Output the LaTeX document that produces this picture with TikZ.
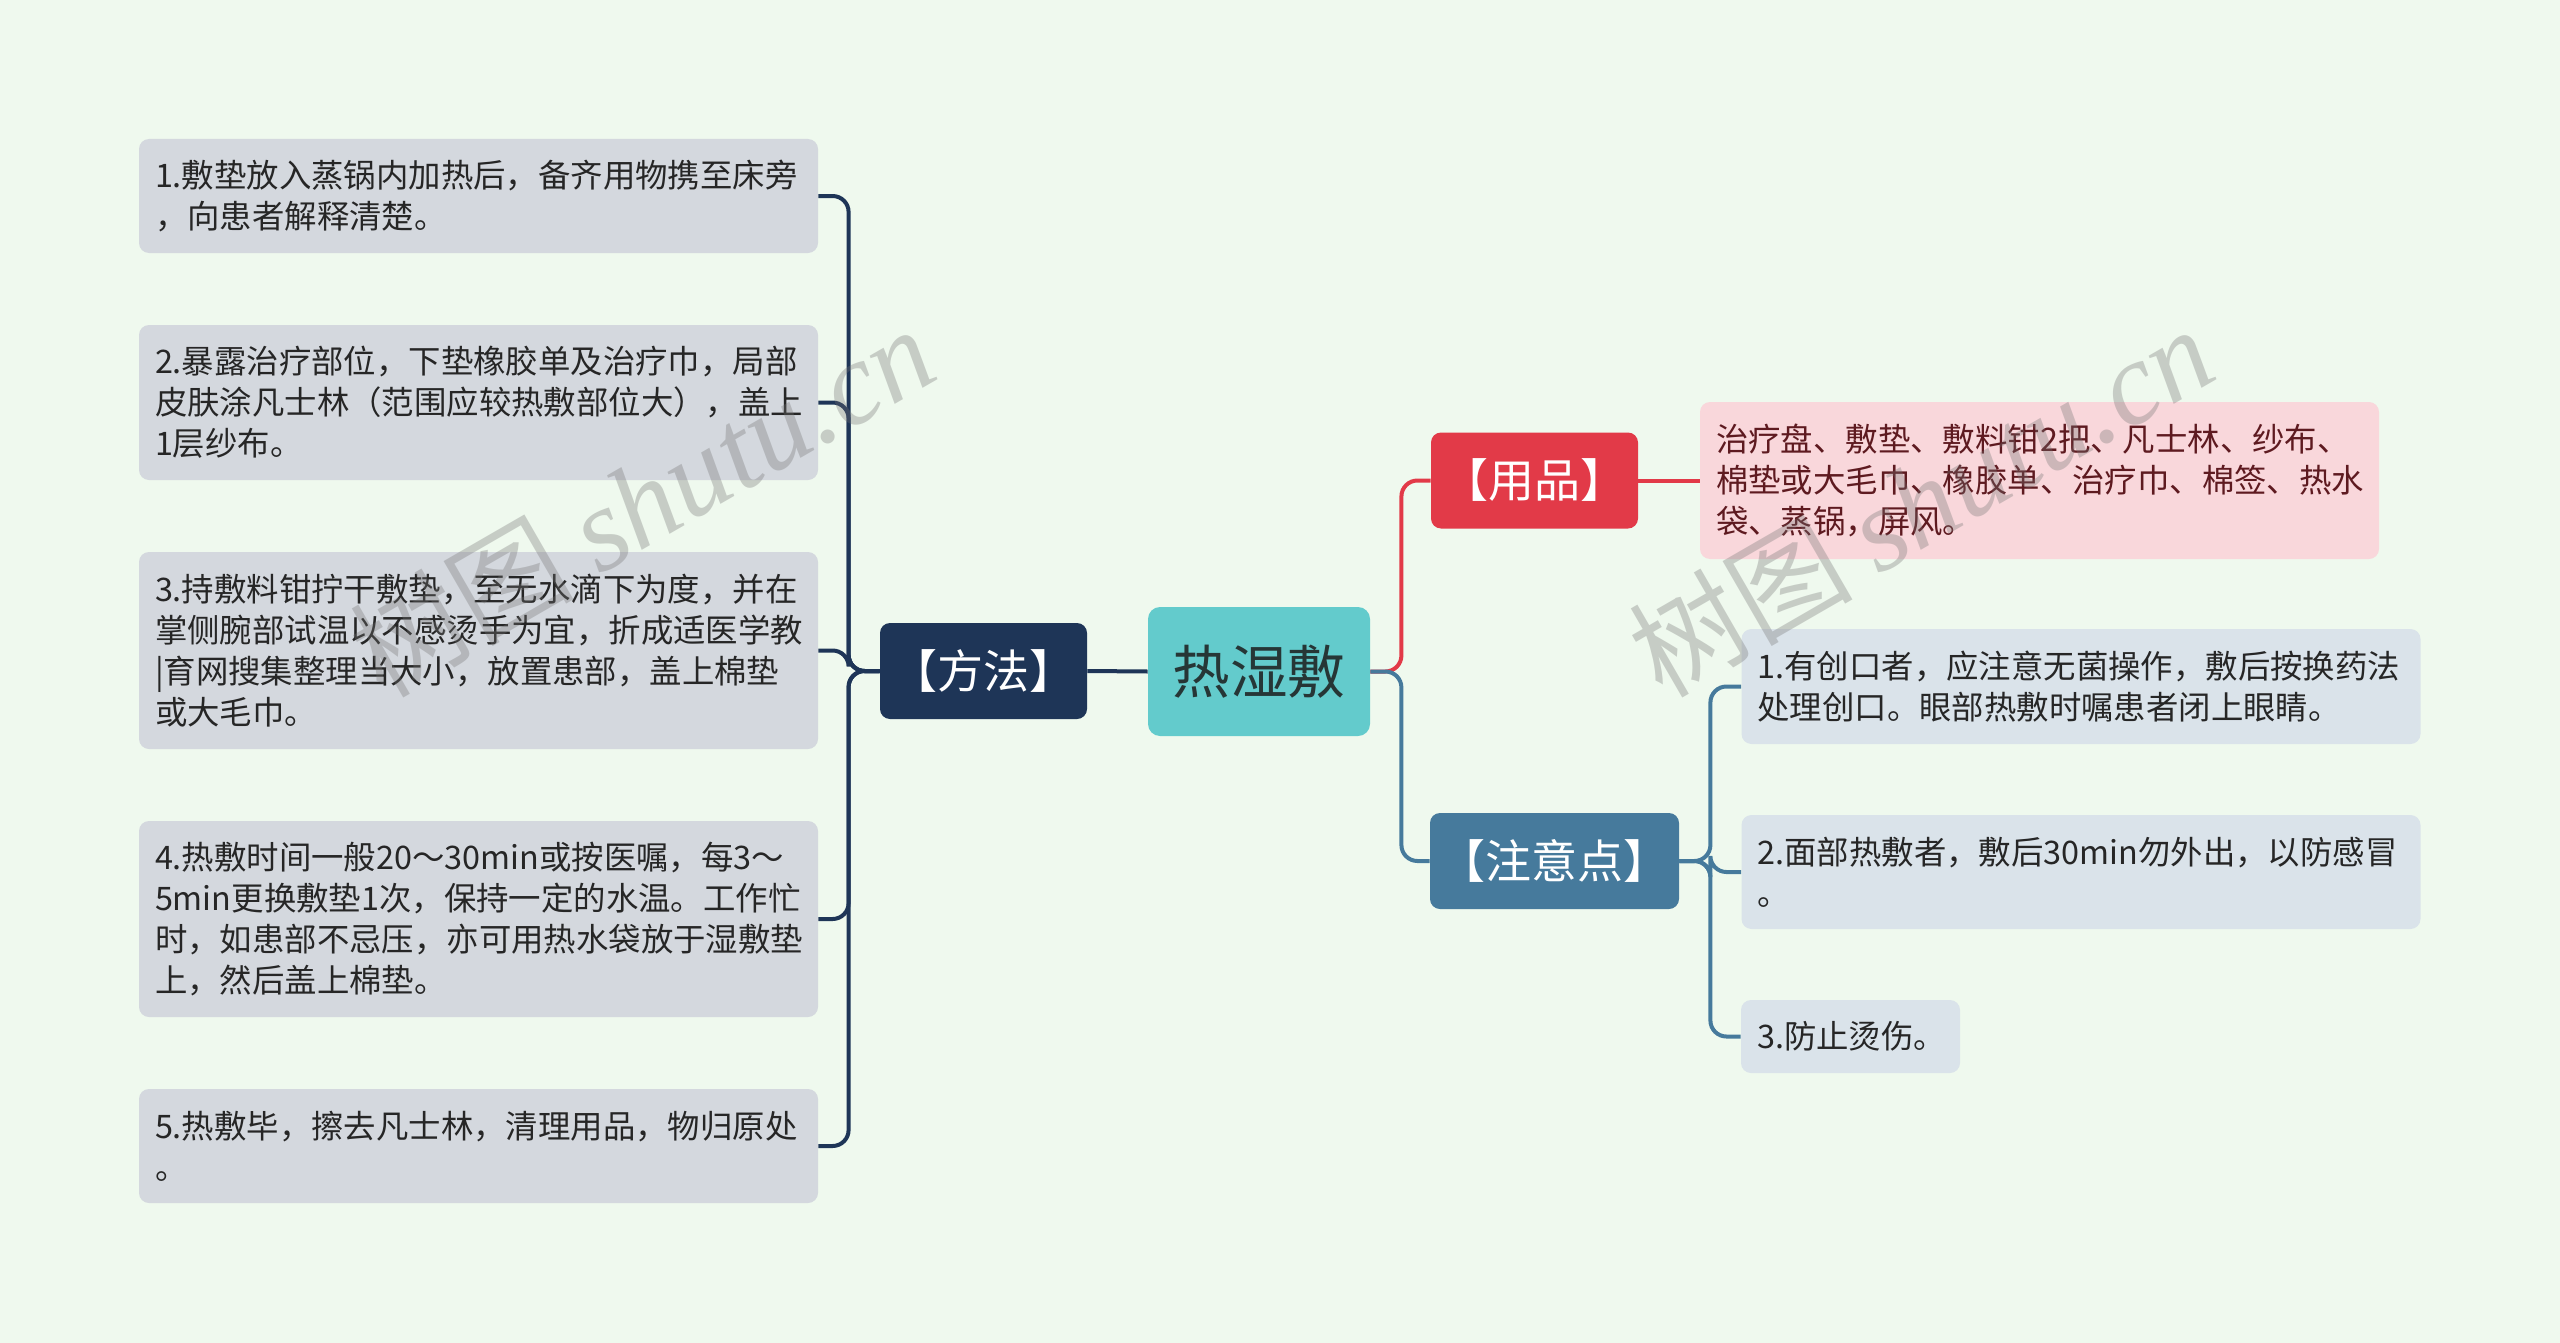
\documentclass[tikz,border=0pt]{standalone}
\usepackage{fontspec}
\setmainfont{Noto Sans CJK SC}
\newfontfamily\wmlatin{Liberation Serif}
\definecolor{bgc}{HTML}{EFF9EE}
\definecolor{leftfill}{HTML}{D4D8DE}
\definecolor{navyc}{HTML}{1E3557}
\definecolor{ctrfill}{HTML}{63CBCC}
\definecolor{ctrtext}{HTML}{263636}
\definecolor{redc}{HTML}{E23A48}
\definecolor{pinkfill}{HTML}{F9D7DB}
\definecolor{pinktext}{HTML}{5E1A20}
\definecolor{steelc}{HTML}{467A9C}
\definecolor{rightfill}{HTML}{DAE3EA}
\definecolor{txtc}{HTML}{262626}
\newcommand\leaffont{\fontsize{16.2pt}{20.5pt}\selectfont}
\newcommand\branchfont{\fontsize{23pt}{27pt}\selectfont}
\newcommand\ctrfont{\fontsize{28.8pt}{34pt}\selectfont}
\newcommand\wmfont{\fontsize{56pt}{64pt}\selectfont}
\newcommand\wmlat{\fontsize{59pt}{68pt}\selectfont\wmlatin\itshape}
\tikzset{
  leafbox/.style={rounded corners=5pt, text width=323.5pt, inner xsep=8pt, inner ysep=0pt, align=left, font=\leaffont},
  leafL/.style={leafbox, fill=leftfill, text=txtc},
  leafR/.style={leafbox, fill=rightfill, text=txtc},
  leafP/.style={leafbox, fill=pinkfill, text=pinktext},
  branchbox/.style={rounded corners=5pt, inner sep=0pt, minimum height=48pt, font=\branchfont, text=white},
  conn/.style={line width=2pt, rounded corners=8pt},
  wm/.style={text=black!55, opacity=0.33, font=\wmfont, inner sep=0pt, rotate=30, anchor=base west}
}
\begin{document}
\begin{tikzpicture}[x=0.5pt, y=-0.5pt]
\useasboundingbox (0,0) rectangle (2560,1343);
\clip (0,0) rectangle (2560,1343);
\fill[bgc] (0,0) rectangle (2560,1343);

% center
\node[fill=ctrfill, rounded corners=6pt, minimum width=111pt, minimum height=64.5pt, inner sep=0pt, font=\ctrfont, text=ctrtext] (c) at (1259,671.5) {热湿敷};

% branches
\node[branchbox, fill=navyc, minimum width=103.5pt] (m) at (983.5,671) {【方法】};
\node[branchbox, fill=redc, minimum width=103.5pt] (yp) at (1534.5,480.5) {【用品】};
\node[branchbox, fill=steelc, minimum width=124.5pt] (zy) at (1554.5,861) {【注意点】};

% left leaves
\node[leafL, minimum height=57pt] (b1) at (478.5,196) {1.敷垫放入蒸锅内加热后，备齐用物携至床旁\\，向患者解释清楚。};
\node[leafL, minimum height=77.5pt] (b2) at (478.5,402.5) {2.暴露治疗部位，下垫橡胶单及治疗巾，局部\\皮肤涂凡士林（范围应较热敷部位大），盖上\\1层纱布。};
\node[leafL, minimum height=98.5pt] (b3) at (478.5,650.5) {3.持敷料钳拧干敷垫，至无水滴下为度，并在\\掌侧腕部试温以不感烫手为宜，折成适医学教\\|育网搜集整理当大小，放置患部，盖上棉垫\\或大毛巾。};
\node[leafL, minimum height=98pt] (b4) at (478.5,919) {4.热敷时间一般20～30min或按医嘱，每3～\\5min更换敷垫1次，保持一定的水温。工作忙\\时，如患部不忌压，亦可用热水袋放于湿敷垫\\上，然后盖上棉垫。};
\node[leafL, minimum height=57pt] (b5) at (478.5,1146) {5.热敷毕，擦去凡士林，清理用品，物归原处\\。};

% right leaves
\node[leafP, minimum height=78.5pt] (pk) at (2039.5,480.5) {治疗盘、敷垫、敷料钳2把、凡士林、纱布、\\棉垫或大毛巾、橡胶单、治疗巾、棉签、热水\\袋、蒸锅，屏风。};
\node[leafR, minimum height=57.5pt] (r1) at (2081,686.5) {1.有创口者，应注意无菌操作，敷后按换药法\\处理创口。眼部热敷时嘱患者闭上眼睛。};
\node[leafR, minimum height=57pt] (r2) at (2081,872) {2.面部热敷者，敷后30min勿外出，以防感冒\\。};
\node[leafR, text width=93.5pt, minimum height=36.5pt] (r3) at (1850.5,1036.5) {3.防止烫伤。};

% connectors
\draw[conn, navyc] (c.west) -- (m.east);
\foreach \b in {b1,b2,b3,b4,b5}
  \draw[conn, navyc] (m.west) -- ++(-31,0) |- (\b.east);
\draw[conn, redc] (c.east) -- ++(31,0) |- (yp.west);
\draw[conn, steelc] (c.east) -- ++(31,0) |- (zy.west);
\draw[conn, redc] (yp.east) -- (pk.west);
\foreach \r in {r1,r2,r3}
  \draw[conn, steelc] (zy.east) -- ++(31,0) |- (\r.west);

% watermark
\node[wm] (w1) at (1662,700) {树图 {\wmlat shutu.cn}};
\node[wm] (w2) at (383,700) {树图 {\wmlat shutu.cn}};
\end{tikzpicture}
\end{document}
